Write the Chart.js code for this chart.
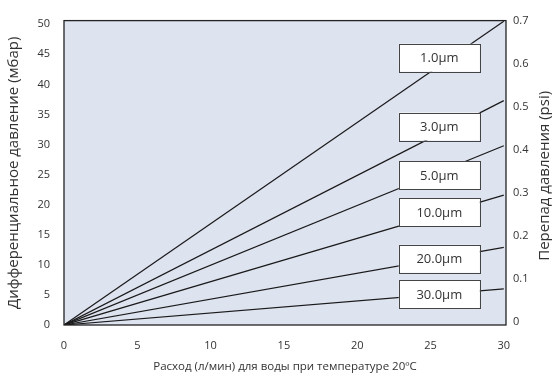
<!DOCTYPE html>
<html>
<head>
<meta charset="utf-8">
<script src="https://cdn.jsdelivr.net/npm/chart.js@4/dist/chart.umd.min.js"></script>
<style>
  body { margin: 0; background: #fff; }
</style>
</head>
<body>
<canvas id="chart" width="552" height="378"></canvas>
<script>
// 資料
var flows = [0, 30];
var filters = ['1.0µm', '3.0µm', '5.0µm', '10.0µm', '20.0µm', '30.0µm'];
var mbarAt30 = [50.5, 37.3, 29.8, 21.6, 12.9, 6.0];
var xTicks = [0, 5, 10, 15, 20, 25, 30];
var mbarTicks = [0, 5, 10, 15, 20, 25, 30, 35, 40, 45, 50];
var psiTicks = [0, 0.1, 0.2, 0.3, 0.4, 0.5, 0.6, 0.7];

var textColor = '#333';
var family = '"Open Sans", "Noto Sans", sans-serif';
var font = { family: family, size: 11 };
var titleFont = { family: family, size: 15 };
var labelX = 25.6;
// 標籤框微調 (px)
var boxShift = [-8, -7, 3, -2, 0, 0];

var datasets = filters.map(function (name, i) {
  return {
    label: name,
    data: flows.map(function (f) { return { x: f, y: mbarAt30[i] * f / flows[1] }; }),
    borderColor: '#1a1a1a',
    borderWidth: 1.2,
    pointRadius: 0,
    fill: false,
    yAxisID: 'y'
  };
});
// 右軸用空資料集
datasets.push({ label: 'psi', data: [], yAxisID: 'y2' });

// 背景、標籤框、外框、右軸標題
var frame = {
  id: 'frame',
  beforeDatasetsDraw: function (chart) {
    var a = chart.chartArea, ctx = chart.ctx;
    ctx.save();
    ctx.fillStyle = '#dee3f0';
    ctx.fillRect(a.left, a.top, a.right - a.left, a.bottom - a.top);
    ctx.restore();
  },
  afterDatasetsDraw: function (chart) {
    var a = chart.chartArea, ctx = chart.ctx;
    var xs = chart.scales.x, ys = chart.scales.y;
    ctx.save();
    ctx.font = '13px ' + family;
    ctx.textAlign = 'center';
    ctx.textBaseline = 'middle';
    filters.forEach(function (name, i) {
      var cx = xs.getPixelForValue(labelX);
      var cy = ys.getPixelForValue(mbarAt30[i] * labelX / flows[1]) + boxShift[i];
      var w = 81, h = 28;
      ctx.fillStyle = '#fff';
      ctx.fillRect(cx - w / 2, cy - h / 2, w, h);
      ctx.strokeStyle = '#444';
      ctx.lineWidth = 1;
      ctx.strokeRect(Math.round(cx - w / 2) + 0.5, Math.round(cy - h / 2) + 0.5, w, h);
      ctx.fillStyle = textColor;
      ctx.fillText(name, cx, cy + 1);
    });
    ctx.strokeStyle = '#222';
    ctx.lineWidth = 1.3;
    ctx.strokeRect(a.left, a.top, a.right - a.left, a.bottom - a.top);

    // 右軸標題 (由下往上)
    ctx.translate(545, (a.top + a.bottom) / 2 + 3);
    ctx.rotate(-Math.PI / 2);
    ctx.font = titleFont.size + 'px ' + family;
    ctx.fillStyle = textColor;
    ctx.fillText('Перепад давления (psi)', 0, 0);
    ctx.restore();
  }
};

new Chart(document.getElementById('chart'), {
  type: 'line',
  data: { datasets: datasets },
  options: {
    responsive: false,
    animation: false,
    layout: { padding: { top: 15 } },
    plugins: { legend: { display: false }, tooltip: { enabled: false } },
    scales: {
      x: {
        type: 'linear',
        min: 0,
        max: 30.15,
        afterBuildTicks: function (s) { s.ticks = xTicks.map(function (v) { return { value: v }; }); },
        afterFit: function (s) { s.height = 53; },
        grid: { display: false, drawTicks: false },
        border: { display: false },
        ticks: { padding: 14, color: textColor, font: font, maxRotation: 0 },
        title: {
          display: true,
          text: 'Расход (л/мин) для воды при температуре 20ºC',
          color: textColor, font: { family: family, size: 11.5 }, padding: { bottom: 4 }
        }
      },
      y: {
        position: 'left',
        min: 0,
        max: 50.6,
        afterBuildTicks: function (s) { s.ticks = mbarTicks.map(function (v) { return { value: v }; }); },
        afterFit: function (s) { s.width = 64; },
        grid: { display: false, drawTicks: false },
        border: { display: false },
        ticks: { padding: 14, color: textColor, font: font },
        title: {
          display: true,
          text: 'Дифференциальное давление (мбар)',
          color: textColor, font: titleFont, padding: { top: 5 }
        }
      },
      y2: {
        position: 'right',
        min: -0.0075,
        max: 0.7,
        afterBuildTicks: function (s) { s.ticks = psiTicks.map(function (v) { return { value: v }; }); },
        afterFit: function (s) { s.width = 46; },
        grid: { display: false, drawTicks: false },
        border: { display: false },
        ticks: { padding: 7, color: textColor, font: font, callback: function (v) { return String(v); } }
      }
    }
  },
  plugins: [frame]
});
</script>
</body>
</html>
